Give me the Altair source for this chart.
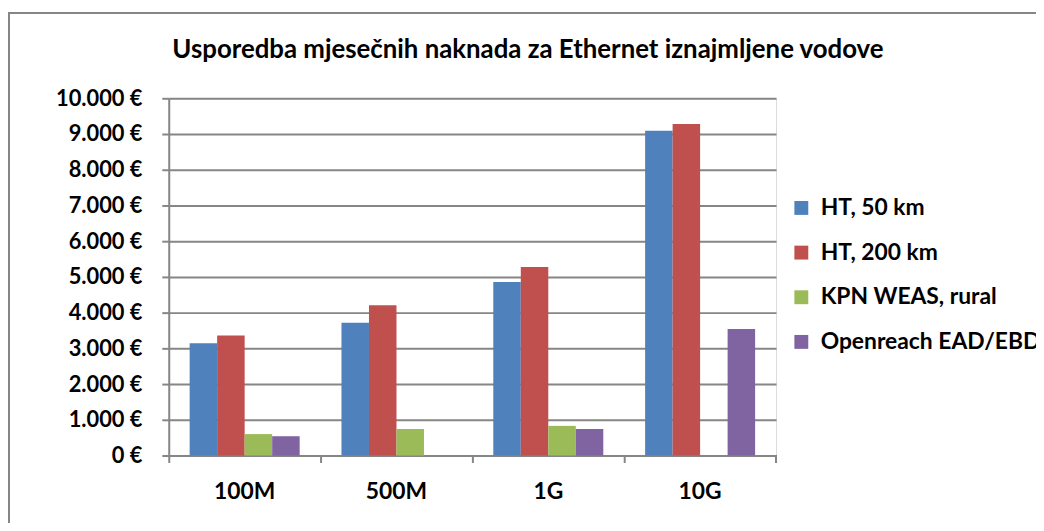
import altair as alt
import pandas as pd

categories = ["100M", "500M", "1G", "10G"]
series = ["HT, 50 km", "HT, 200 km", "KPN WEAS, rural", "Openreach EAD/EBD"]
colors = ["#4F81BD", "#C0504D", "#9BBB59", "#8064A2"]

ht50 = [3140, 3720, 4860, 9090]
ht200 = [3360, 4210, 5280, 9280]
kpn = [600, 740, 830, None]
openreach = [540, None, 740, 3540]

y_ticks = [0, 1000, 2000, 3000, 4000, 5000, 6000, 7000, 8000, 9000, 10000]
title_text = "Usporedba mjesečnih naknada za Ethernet iznajmljene vodove"

rows = []
for s, vals in zip(series, [ht50, ht200, kpn, openreach]):
    for c, v in zip(categories, vals):
        if v is not None:
            rows.append({"kategorija": c, "serija": s, "vrijednost": v})
df = pd.DataFrame(rows)

FONT = "Lato"
GRAY = "#868686"
W, H = 612, 360

bars = alt.Chart(df).mark_bar().encode(
    x=alt.X("kategorija:N", sort=categories,
            scale=alt.Scale(paddingInner=0, paddingOuter=0),
            axis=alt.Axis(title=None, labelAngle=0, bandPosition=0, tickSize=7,
                          labelPadding=18, labelFontSize=23, labelFont=FONT,
                          labelFontWeight="bold", labelColor="#000000",
                          domainColor=GRAY, tickColor=GRAY, domainWidth=2,
                          tickWidth=2, grid=False)),
    xOffset=alt.XOffset("serija:N", sort=series,
                        scale=alt.Scale(paddingInner=0, paddingOuter=0.76)),
    y=alt.Y("vrijednost:Q",
            scale=alt.Scale(domain=[0, 10000], nice=False),
            axis=alt.Axis(title=None, values=y_ticks, tickSize=7, labelPadding=20,
                          labelExpr="replace(format(datum.value, ',d'), ',', '.') + ' €'",
                          labelFontSize=22, labelFont=FONT, labelFontWeight="bold",
                          labelColor="#000000", domainColor=GRAY, tickColor=GRAY,
                          domainWidth=2, tickWidth=2, gridColor=GRAY, gridWidth=2)),
    color=alt.Color("serija:N", sort=series,
                    scale=alt.Scale(domain=series, range=colors),
                    legend=alt.Legend(title=None, orient="none", legendX=626, legendY=99,
                                      symbolType="square", symbolSize=196,
                                      symbolStrokeWidth=0, labelFontSize=23,
                                      labelFont=FONT, labelFontWeight="bold",
                                      labelColor="#000000", labelOffset=8,
                                      rowPadding=21, labelLimit=400)),
)

end_tick = alt.Chart(df).mark_rule(color=GRAY, strokeWidth=2).encode(
    x=alt.value(W), y=alt.value(H), y2=alt.value(H + 7)
)

frame = alt.Chart(df).mark_rect(fill=None, stroke=GRAY, strokeWidth=2).encode(
    x=alt.value(-161), x2=alt.value(W + 400), y=alt.value(-86), y2=alt.value(H + 300)
)

chart = alt.layer(frame, bars, end_tick).properties(
    width=W, height=H,
    autosize="none",
    padding={"left": 162, "top": 89, "right": 262, "bottom": 66},
    title=alt.TitleParams(title_text, font=FONT, fontSize=26, fontWeight="bold",
                          color="#000000", anchor="middle", dx=56, offset=0, dy=51),
).configure_view(stroke=None).configure(background="white")

chart.save("out.html", embed_options={"renderer": "svg", "actions": False})
